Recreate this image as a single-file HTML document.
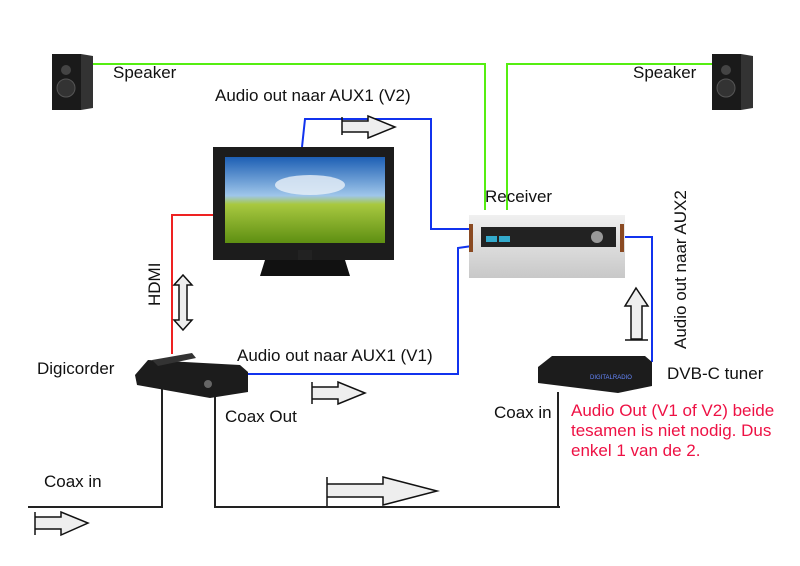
<!DOCTYPE html>
<html><head><style>
body{margin:0;background:#fff;}
svg{display:block;font-family:"Liberation Sans",sans-serif;}
</style></head><body>
<svg width="800" height="566" viewBox="0 0 800 566">
<defs>
<linearGradient id="sky" x1="0" y1="0" x2="0" y2="1"><stop offset="0" stop-color="#1d5fb4"/><stop offset="0.45" stop-color="#9fc6ea"/><stop offset="0.55" stop-color="#a8c840"/><stop offset="1" stop-color="#5e8f12"/></linearGradient>
<linearGradient id="rcv" x1="0" y1="0" x2="0" y2="1"><stop offset="0" stop-color="#f0f0f0"/><stop offset="1" stop-color="#c8c8c8"/></linearGradient>
</defs>
<polyline points="92,64 485,64 485,210" fill="none" stroke="#55ee11" stroke-width="2"/>
<polyline points="712,64 507,64 507,210" fill="none" stroke="#55ee11" stroke-width="2"/>
<polyline points="302,147 305,119 431,119 431,229 472,229" fill="none" stroke="#1133ee" stroke-width="2"/>
<polyline points="246,374 458,374 458,248 472,246" fill="none" stroke="#1133ee" stroke-width="2"/>
<polyline points="623,237 652,237 652,362" fill="none" stroke="#1133ee" stroke-width="2"/>
<polyline points="216,215 172,215 172,354" fill="none" stroke="#ee2222" stroke-width="2"/>
<polyline points="162,385 162,507 28,507" fill="none" stroke="#222" stroke-width="2"/>
<polyline points="215,396 215,507 560,507" fill="none" stroke="#222" stroke-width="2"/>
<line x1="558" y1="392" x2="558" y2="507" stroke="#222" stroke-width="2"/>
<g><rect x="52" y="54" width="29" height="56" fill="#1a1a1a"/><polygon points="81,54 93,56 93,108 81,110" fill="#333"/><circle cx="66" cy="70" r="5" fill="#444"/><circle cx="66" cy="88" r="9" fill="#333" stroke="#555"/></g>
<g><rect x="712" y="54" width="29" height="56" fill="#1a1a1a"/><polygon points="741,54 753,56 753,108 741,110" fill="#333"/><circle cx="726" cy="70" r="5" fill="#444"/><circle cx="726" cy="88" r="9" fill="#333" stroke="#555"/></g>
<rect x="213" y="147" width="181" height="113" fill="#1c1c1c"/>
<rect x="225" y="157" width="160" height="86" fill="url(#sky)"/>
<ellipse cx="310" cy="185" rx="35" ry="10" fill="#e8f0f8" opacity="0.8"/>
<rect x="298" y="250" width="14" height="10" fill="#222"/>
<polygon points="265,260 345,260 350,276 260,276" fill="#111"/>
<rect x="469" y="215" width="156" height="63" fill="url(#rcv)"/>
<rect x="469" y="224" width="4" height="28" fill="#8a4a22"/>
<rect x="620" y="224" width="4" height="28" fill="#8a4a22"/>
<rect x="481" y="227" width="135" height="20" fill="#222"/>
<rect x="486" y="236" width="11" height="6" fill="#3ac"/><rect x="499" y="236" width="11" height="6" fill="#3ac"/>
<circle cx="597" cy="237" r="6" fill="#999"/>
<polygon points="135,375 148,360 240,365 248,372 248,392 210,398 137,385" fill="#1c1c1c"/>
<polygon points="152,360 192,353 196,358 158,366" fill="#333"/>
<circle cx="208" cy="384" r="4" fill="#666"/>
<polygon points="538,367 552,356 645,356 652,362 652,386 618,393 538,383" fill="#1c1c1c"/>
<text x="590" y="379" font-size="6" fill="#6688ff" font-family="Liberation Sans">DIGITALRADIO</text>
<g fill="#eee" stroke="#111" stroke-width="1.5">
<path d="M342,117 V135 M342,121 H368 V116 L395,127 L368,138 V132 H342"/>
<path d="M312,382 V404 M312,387 H338 V382 L365,393 L338,404 V399 H312"/>
<path d="M327,477 V506 M327,484 H383 V477 L437,491 L383,505 V497 H327"/>
<path d="M35,512 V535 M35,517 H61 V512 L88,523 L61,535 V529 H35"/>
<path d="M183,275 L192,285 H187 V320 H192 L183,330 L174,320 H179 V285 H174 Z"/>
<path d="M636,288 L648,306 H642 V339 H631 V306 H625 Z"/>
<line x1="625" y1="340" x2="648" y2="340"/>
</g>
<g font-size="17" fill="#111">
<text x="113" y="78">Speaker</text>
<text x="633" y="78">Speaker</text>
<text x="215" y="101">Audio out naar AUX1 (V2)</text>
<text x="485" y="202">Receiver</text>
<text x="37" y="374">Digicorder</text>
<text x="237" y="361">Audio out naar AUX1 (V1)</text>
<text x="225" y="422">Coax Out</text>
<text x="44" y="487">Coax in</text>
<text x="494" y="418">Coax in</text>
<text x="667" y="379">DVB-C tuner</text>
<text transform="translate(160,306) rotate(-90)">HDMI</text>
<text transform="translate(686,349) rotate(-90)">Audio out naar AUX2</text>
</g>
<g font-size="17" fill="#ee1144">
<text x="571" y="416">Audio Out (V1 of V2) beide</text>
<text x="571" y="436">tesamen is niet nodig. Dus</text>
<text x="571" y="456">enkel 1 van de 2.</text>
</g>
</svg>
</body></html>
